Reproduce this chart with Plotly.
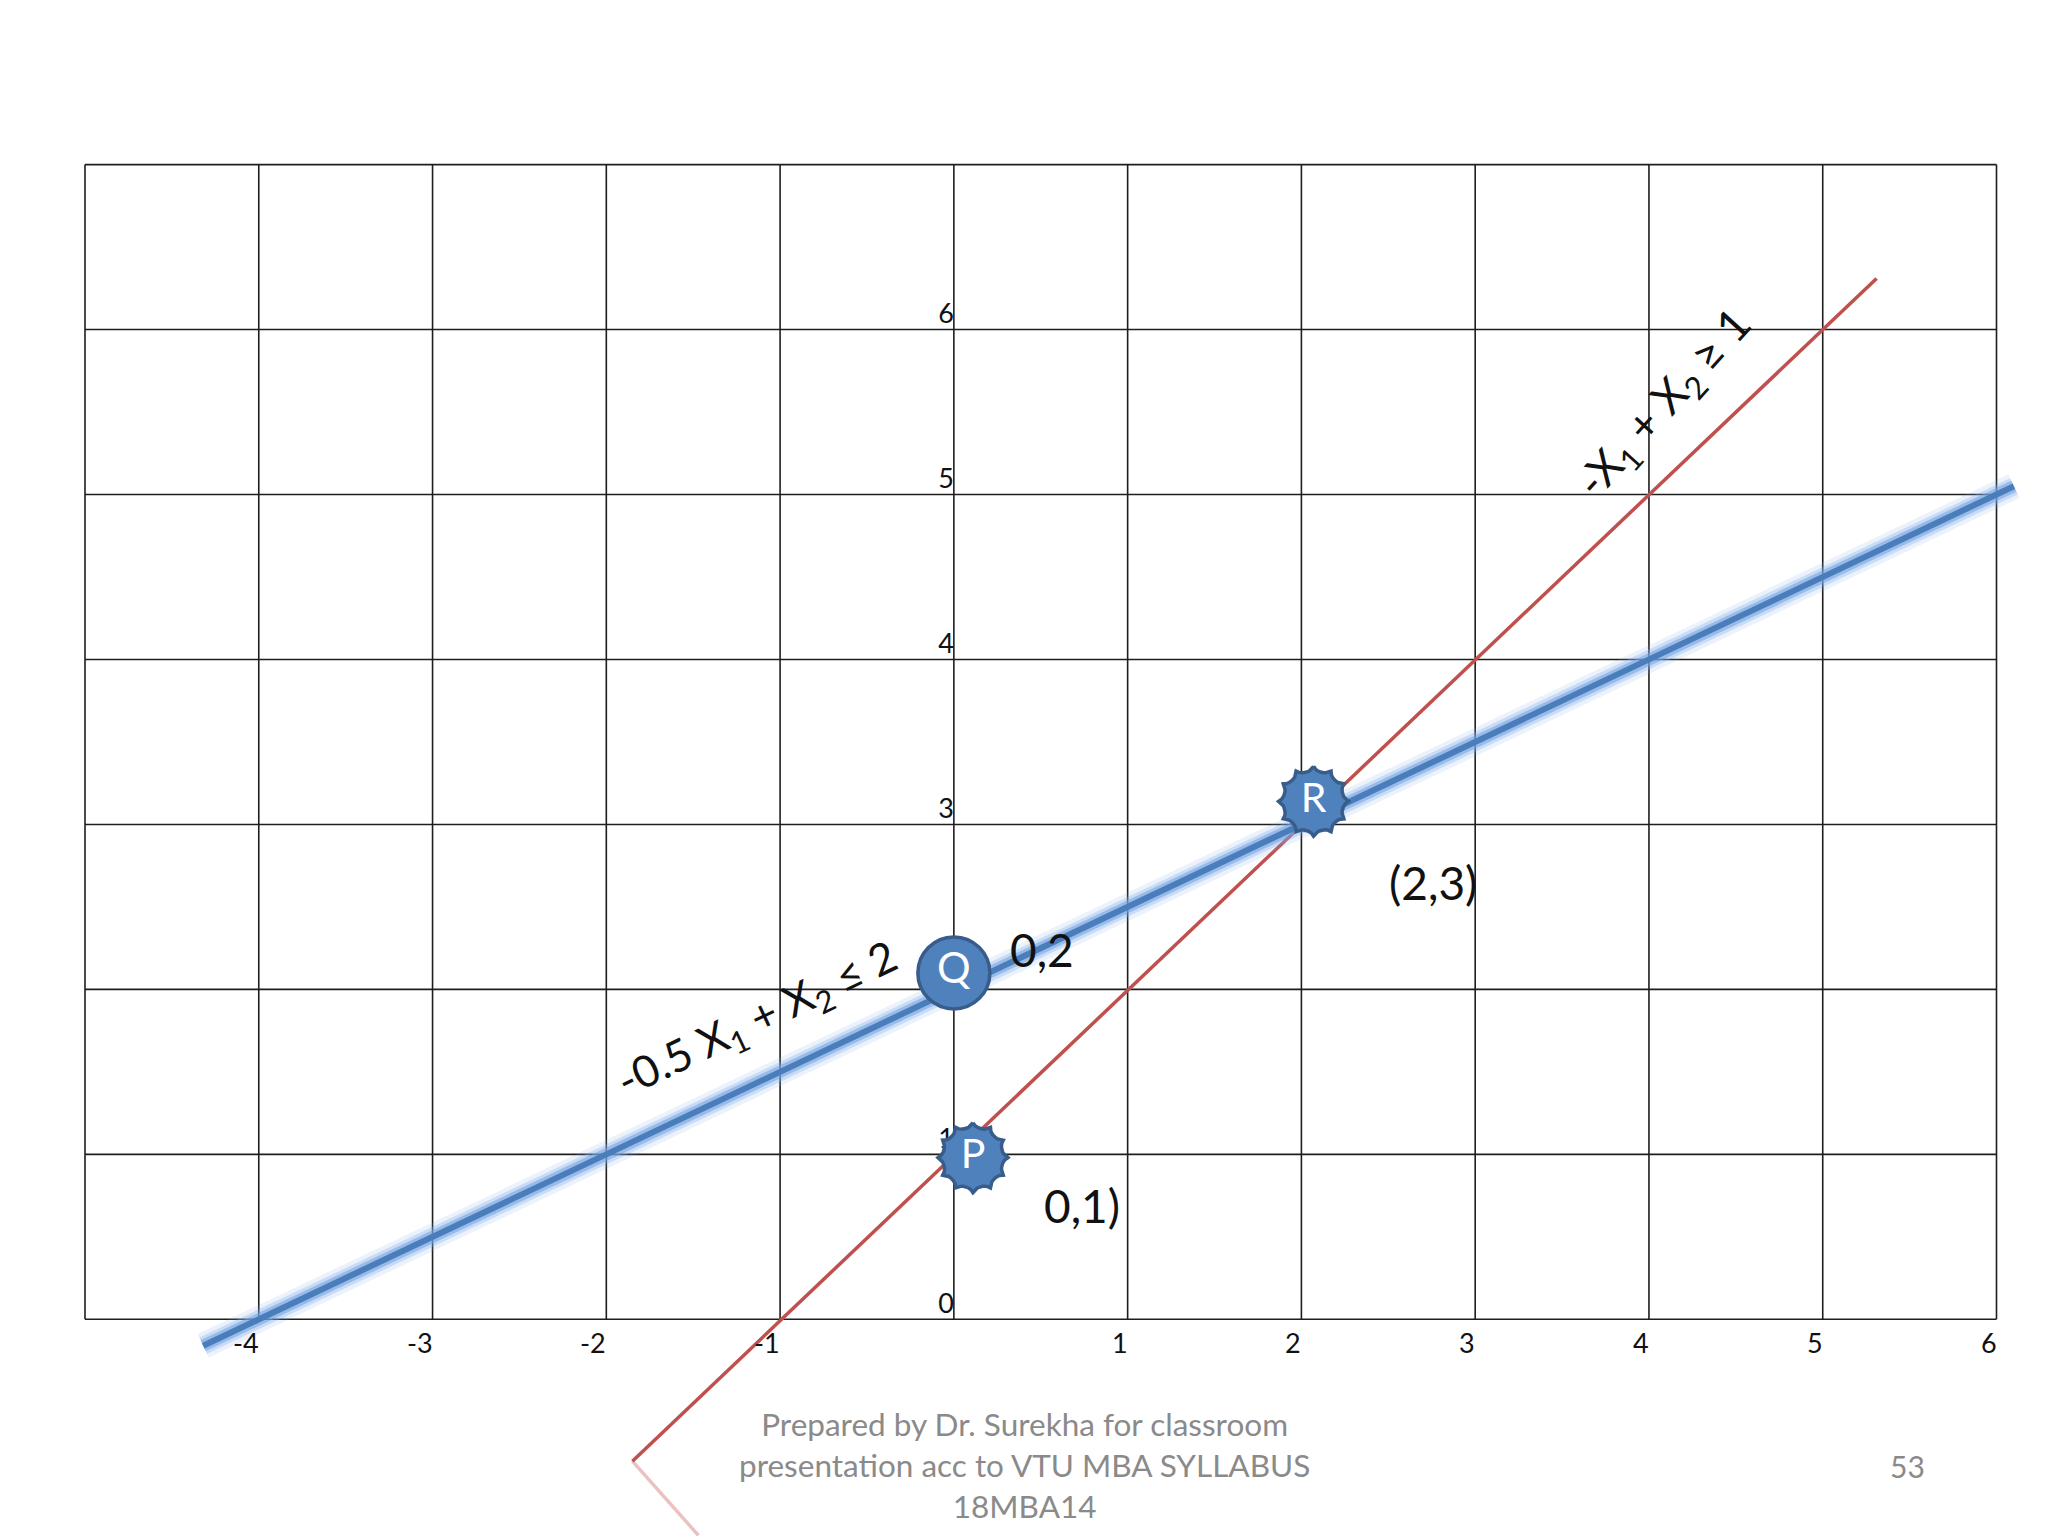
import math
import plotly.graph_objects as go

# ---------------- data ----------------
grid_x = [-5, -4, -3, -2, -1, 0, 1, 2, 3, 4, 5, 6]
grid_y = [0, 1, 2, 3, 4, 5, 6, 7]
x_tick_vals = [-4, -3, -2, -1, 1, 2, 3, 4, 5, 6]
x_tick_text = ["-4", "-3", "-2", "-1", "1", "2", "3", "4", "5", "6"]
y_tick_vals = [0, 1, 2, 3, 4, 5, 6]
y_tick_text = ["0", "1", "2", "3", "4", "5", "6"]

# constraint -0.5 X1 + X2 <= 2  (blue)
blue_x = [-4.32, 6.10]
blue_y = [-0.16, 5.05]
# constraint -X1 + X2 >= 1  (red)
red_x = [-1.85, 5.31]
red_y = [-0.86, 6.31]
red_reflect_x = [-1.85, -1.47]
red_reflect_y = [-0.86, -1.31]

# corner points
seal_names = ["P", "R"]
seal_x = [0.11, 2.07]
seal_y = [0.98, 3.14]
circle_names = ["Q"]
circle_x = [0.0]
circle_y = [2.10]

point_labels = ["0,2", "(2,3)", "0,1)"]
point_label_x = [0.51, 2.76, 0.74]
point_label_y = [2.24, 2.65, 0.69]

blue_label = "-0.5 X<sub>1</sub> + X<sub>2</sub> ≤ 2"
red_label = "-X<sub>1</sub> + X<sub>2</sub> ≥ 1"
footer_text = "Prepared by Dr. Surekha for classroom<br>presentation acc to VTU MBA SYLLABUS<br>18MBA14"
page_number = "53"

# ---------------- geometry ----------------
OFF = 8  # page body margin
W, H = 2048 - OFF, 1536 - OFF
PX_LEFT, PX_RIGHT, PX_TOP, PX_BOTTOM = 85.0 - OFF, 1996.5 - OFF, 164.6 - OFF, 1319.3 - OFF
ux = (PX_RIGHT - PX_LEFT) / (grid_x[-1] - grid_x[0])
uy = (PX_BOTTOM - PX_TOP) / (grid_y[-1] - grid_y[0])
x_range = [grid_x[0] - PX_LEFT / ux, grid_x[0] + (W - PX_LEFT) / ux]
y_range = [grid_y[0] - (H - PX_BOTTOM) / uy, grid_y[0] + PX_BOTTOM / uy]

FONT = "Lato, 'Open Sans', sans-serif"
BLUE = "#4F81BD"
BLUE_DARK = "#385D8A"
RED = "#C0504D"
GRID = "#1e1e1e"
GRAY = "#8a8a8a"

fig = go.Figure()

# grid
vx, vy = [], []
for gx in grid_x:
    vx += [gx, gx, None]
    vy += [grid_y[0], grid_y[-1], None]
hx, hy = [], []
for gy in grid_y:
    hx += [grid_x[0], grid_x[-1], None]
    hy += [gy, gy, None]
fig.add_trace(go.Scatter(x=vx + hx, y=vy + hy, mode="lines",
                         line=dict(color=GRID, width=1.6), hoverinfo="skip"))

# y tick labels (trace so the markers cover them)
fig.add_trace(go.Scatter(x=[0] * len(y_tick_vals), y=y_tick_vals, mode="text",
                         text=y_tick_text, textposition="top left",
                         textfont=dict(family=FONT, size=27, color="#111"),
                         hoverinfo="skip"))

# red line + faint reflection
fig.add_trace(go.Scatter(x=red_reflect_x, y=red_reflect_y, mode="lines",
                         line=dict(color="rgba(192,80,77,0.35)", width=3.5), hoverinfo="skip"))
fig.add_trace(go.Scatter(x=red_x, y=red_y, mode="lines",
                         line=dict(color=RED, width=3.5), hoverinfo="skip"))

# blue line with glow
for w, c in [(26, "rgba(130,175,235,0.16)"), (18, "rgba(130,175,235,0.33)"),
             (12, "rgba(115,160,225,0.55)"), (6, "#4A7EBB")]:
    fig.add_trace(go.Scatter(x=blue_x, y=blue_y, mode="lines",
                             line=dict(color=c, width=w), hoverinfo="skip"))


# 12-point seal outline around a centre (pixel radii converted to axis units)
def seal_outline(cx, cy, r_tip=35.0, r_valley=30.0, n=12, steps=8):
    xs, ys = [], []
    for k in range(n):
        for s in range(steps):
            t = s / steps
            r = r_tip - (r_tip - r_valley) * math.sin(math.pi * t) ** 0.55
            a = math.pi / 2 + 2 * math.pi * (k + t) / n
            xs.append(cx + r * math.cos(a) / ux)
            ys.append(cy + r * math.sin(a) / uy)
    xs.append(xs[0])
    ys.append(ys[0])
    return xs, ys


for cx, cy in zip(seal_x, seal_y):
    sx, sy = seal_outline(cx, cy)
    fig.add_trace(go.Scatter(x=sx, y=sy, mode="lines", fill="toself",
                             fillcolor=BLUE, line=dict(color=BLUE_DARK, width=3.5),
                             hoverinfo="skip"))
fig.add_trace(go.Scatter(x=seal_x, y=seal_y, mode="text", text=seal_names,
                         textposition="middle center",
                         textfont=dict(family=FONT, size=41, color="white"),
                         hoverinfo="skip"))

# Q circle
fig.add_trace(go.Scatter(x=circle_x, y=circle_y, mode="markers+text",
                         text=circle_names, textposition="middle center",
                         textfont=dict(family=FONT, size=42, color="white"),
                         marker=dict(symbol="circle", size=72, color=BLUE,
                                     line=dict(color=BLUE_DARK, width=3.5)),
                         hoverinfo="skip"))

annotations = []
for v, t in zip(x_tick_vals, x_tick_text):
    annotations.append(dict(x=v, y=0, xref="x", yref="y", text=t, showarrow=False,
                            xanchor="right", yanchor="top", yshift=-5, xshift=2,
                            font=dict(family=FONT, size=27, color="#111")))
for t, lx, ly in zip(point_labels, point_label_x, point_label_y):
    annotations.append(dict(x=lx, y=ly, xref="x", yref="y", text=t, showarrow=False,
                            xanchor="center", yanchor="middle",
                            font=dict(family=FONT, size=46, color="#111")))
annotations.append(dict(x=-1.13, y=1.81, xref="x", yref="y", text=blue_label,
                        showarrow=False, textangle=-25.4,
                        font=dict(family=FONT, size=44, color="#111")))
annotations.append(dict(x=4.09, y=5.55, xref="x", yref="y", text=red_label,
                        showarrow=False, textangle=-48,
                        font=dict(family=FONT, size=45, color="#111")))
annotations.append(dict(x=(1024 - OFF) / W, y=1 - (1465 - OFF) / H, xref="paper", yref="paper",
                        text=footer_text, showarrow=False, xanchor="center", yanchor="middle",
                        align="center", font=dict(family=FONT, size=31.5, color=GRAY)))
annotations.append(dict(x=(1907.5 - OFF) / W, y=1 - (1466 - OFF) / H, xref="paper", yref="paper",
                        text=page_number, showarrow=False, xanchor="center", yanchor="middle",
                        font=dict(family=FONT, size=30, color=GRAY)))

fig.update_layout(
    width=W, height=H,
    margin=dict(l=0, r=0, t=0, b=0),
    paper_bgcolor="white", plot_bgcolor="white",
    showlegend=False,
    xaxis=dict(range=x_range, visible=False, fixedrange=True),
    yaxis=dict(range=y_range, visible=False, fixedrange=True),
    annotations=annotations,
)

fig.write_html("out.html")
